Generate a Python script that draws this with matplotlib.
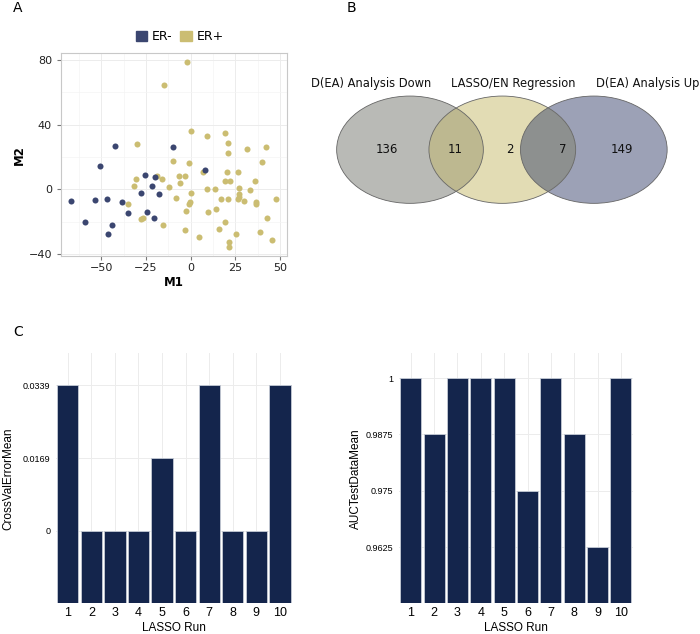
import numpy as np
import matplotlib.pyplot as plt
from matplotlib.patches import Ellipse, Patch

# Panel A: MDS-style scatter, ER- and ER+ samples
er_neg_m1 = [-66.9, -58.8, -53.3, -50.5, -46.7, -46.2, -44.1, -42.5, -38.4, -35.0,
             -27.7, -25.3, -24.4, -21.6, -20.3, -19.9, -17.9, -9.9, 8.0]
er_neg_m2 = [-7.2, -20.4, -6.8, 14.2, -5.8, -27.8, -21.9, 27.0, -7.8, -14.6,
             -2.5, 9.1, -13.8, 2.3, -17.5, 7.4, -2.7, 26.0, 12.2]

er_pos_m1 = [-2.0, -14.9, 0.0, 9.1, 19.2, 20.9, -29.8, 21.0, 31.3, 42.3,
             39.8, -9.9, -0.7, 6.7, 20.3, 26.3, 35.8, 19.0, 21.8, -30.5,
             -31.8, -18.6, -15.8, -6.5, -3.2, -5.9, -12.3, 0.2, 9.1, 13.6,
             26.8, 27.2, 33.3, -8.2, -0.6, -1.2, -34.8, 16.8, 21.0, 26.4,
             26.8, 29.6, 36.5, 36.7, 47.9, -2.4, 9.7, 14.3, -27.6, -26.4,
             -15.5, -3.4, 4.7, 15.6, 19.0, 25.5, 21.2, 21.4, 38.7, 42.5, 45.3]
er_pos_m2 = [78.6, 64.7, 36.1, 33.2, 34.6, 28.5, 28.0, 22.3, 24.7, 26.4,
             16.9, 17.7, 16.5, 10.5, 10.7, 10.5, 5.4, 4.9, 4.9, 6.6,
             1.9, 8.2, 6.6, 8.5, 8.2, 4.1, 1.4, -2.3, 0.2, 0.2,
             1.0, -2.9, -0.6, -5.6, -7.8, -9.1, -8.9, -6.2, -5.8, -6.0,
             -4.9, -7.0, -7.8, -9.1, -6.2, -13.2, -14.0, -12.2, -18.1, -17.9,
             -22.1, -25.4, -29.5, -24.7, -20.4, -27.6, -32.6, -35.9, -26.6, -17.7, -31.3]

# Panel B: Venn counts
venn_labels = ["D(EA) Analysis Down", "LASSO/EN Regression", "D(EA) Analysis Up"]
venn_counts = [136, 11, 2, 7, 149]  # down only, down&lasso, lasso only, lasso&up, up only

# Panel C: LASSO runs
runs = np.arange(1, 11)
cv_error = [0.0339, 0, 0, 0, 0.0169, 0, 0.0339, 0, 0, 0.0339]
cv_ticks = [0, 0.0169, 0.0339]
cv_ticklabels = ["0", "0.0169", "0.0339"]
auc_test = [1, 0.9875, 1, 1, 1, 0.975, 1, 0.9875, 0.9625, 1]
auc_ticks = [0.9625, 0.975, 0.9875, 1]
auc_ticklabels = ["0.9625", "0.975", "0.9875", "1"]

navy_pt = "#3b4670"
gold_pt = "#cbbd72"
bar_col = "#14254c"
grid_col = "#ececec"

fig = plt.figure(figsize=(7, 6.34), dpi=100)

# ---- A ----
ax = fig.add_axes([0.0871, 0.5962, 0.3229, 0.3197])
ax.scatter(er_pos_m1, er_pos_m2, s=19, color=gold_pt, linewidths=0, zorder=3)
ax.scatter(er_neg_m1, er_neg_m2, s=19, color=navy_pt, linewidths=0, zorder=3)
ax.set_xlim(-72.5, 53.8)
ax.set_ylim(-41.2, 84.1)
ax.set_xticks([-50, -25, 0, 25, 50])
ax.set_yticks([-40, 0, 40, 80])
ax.set_xticks([-62.5, -37.5, -12.5, 12.5, 37.5], minor=True)
ax.set_yticks([-20, 20, 60], minor=True)
ax.grid(True, which="major", color=grid_col, lw=0.7)
ax.grid(True, which="minor", color="#f4f4f4", lw=0.5)
ax.set_axisbelow(True)
ax.tick_params(which="major", labelsize=8, length=3, color="#777777", labelcolor="#222222")
ax.tick_params(axis="x", which="major", pad=2)
ax.tick_params(which="minor", length=0)
for s in ax.spines.values():
    s.set_color("#c8c8c8")
    s.set_linewidth(0.8)
ax.set_xlabel("M1", fontsize=8.5, fontweight="bold", labelpad=2)
ax.set_ylabel("M2", fontsize=8.5, fontweight="bold", labelpad=2)
handles = [Patch(color=navy_pt, label="ER-"), Patch(color=gold_pt, label="ER+")]
fig.legend(handles=handles, loc="center", bbox_to_anchor=(0.257, 0.942), ncol=2,
           frameon=False, fontsize=9, handlelength=0.9, handleheight=0.9,
           handletextpad=0.4, columnspacing=0.6)

# ---- B ---- (Venn, drawn in pixel layout)
axv = fig.add_axes([0, 0, 1, 1], zorder=-1)
axv.set_xlim(0, 700)
axv.set_ylim(634, 0)
axv.axis("off")
cy, w, h = 149.7, 146.7, 107.3
centers = [410.0, 502.3, 593.8]
fills = ["#b9bab6", "#e2dcb4", "#9ca1b6"]
left = Ellipse((centers[0], cy), w, h, facecolor=fills[0], edgecolor="none")
right = Ellipse((centers[2], cy), w, h, facecolor=fills[2], edgecolor="none")
mid = Ellipse((centers[1], cy), w, h, facecolor=fills[1], edgecolor="none")
for p in (left, right, mid):
    axv.add_patch(p)
ov1 = Ellipse((centers[1], cy), w, h, facecolor="#bdb890", edgecolor="none")
ov2 = Ellipse((centers[1], cy), w, h, facecolor="#8d908f", edgecolor="none")
axv.add_patch(ov1)
axv.add_patch(ov2)
ov1.set_clip_path(left)
ov2.set_clip_path(right)
for c in centers:
    axv.add_patch(Ellipse((c, cy), w, h, facecolor="none", edgecolor="#666666", lw=0.6))
count_x = [387.3, 455.0, 510.3, 562.3, 622.3]
for x, n in zip(count_x, venn_counts):
    axv.text(x, cy, str(n), ha="center", va="center", fontsize=8.5, color="#111111")
label_x = [370.8, 512.8, 648.0]
for x, t in zip(label_x, venn_labels):
    axv.text(x, 83.5, t, ha="center", va="center", fontsize=8.3, color="#111111")

# ---- C ----
def bar_panel(rect, values, ticks, ticklabels, ylabel, ypad):
    a = fig.add_axes(rect)
    step = ticks[1] - ticks[0]
    floor = ticks[0] - step
    top = ticks[-1] + 0.44 * step
    vals = np.array(values, dtype=float)
    a.bar(runs, vals - floor, bottom=floor, width=0.9, color=bar_col,
          edgecolor="#c5cbd6", linewidth=0.6, zorder=3)
    a.set_ylim(floor, top)
    a.set_xlim(0.5, 10.5)
    a.set_xticks(runs)
    a.set_yticks(ticks)
    a.set_yticklabels(ticklabels)
    a.grid(True, color=grid_col, lw=0.7)
    a.set_axisbelow(True)
    for s in a.spines.values():
        s.set_visible(False)
    a.tick_params(axis="x", length=0, labelsize=9, pad=3)
    a.tick_params(axis="y", length=0, labelsize=6.5, pad=4)
    a.set_xlabel("LASSO Run", fontsize=8.5, family="Liberation Sans", labelpad=2)
    a.set_ylabel(ylabel, fontsize=8.5, family="Liberation Sans", labelpad=ypad)
    for lab in a.get_xticklabels() + a.get_yticklabels():
        lab.set_family("Liberation Sans")
    return a

bar_panel([0.08, 0.0484, 0.3367, 0.3943], cv_error, cv_ticks, cv_ticklabels, "CrossValErrorMean", 6)
bar_panel([0.57, 0.0484, 0.3338, 0.3943], auc_test, auc_ticks, auc_ticklabels, "AUCTestDataMean", 3)

fig.text(18 / 700, 1 - 8 / 634, "A", fontsize=10, ha="center", va="center")
fig.text(351 / 700, 1 - 8 / 634, "B", fontsize=10, ha="center", va="center")
fig.text(18 / 700, 1 - 332 / 634, "C", fontsize=10, ha="center", va="center")

fig.savefig("out.png", dpi=100, facecolor="white")
